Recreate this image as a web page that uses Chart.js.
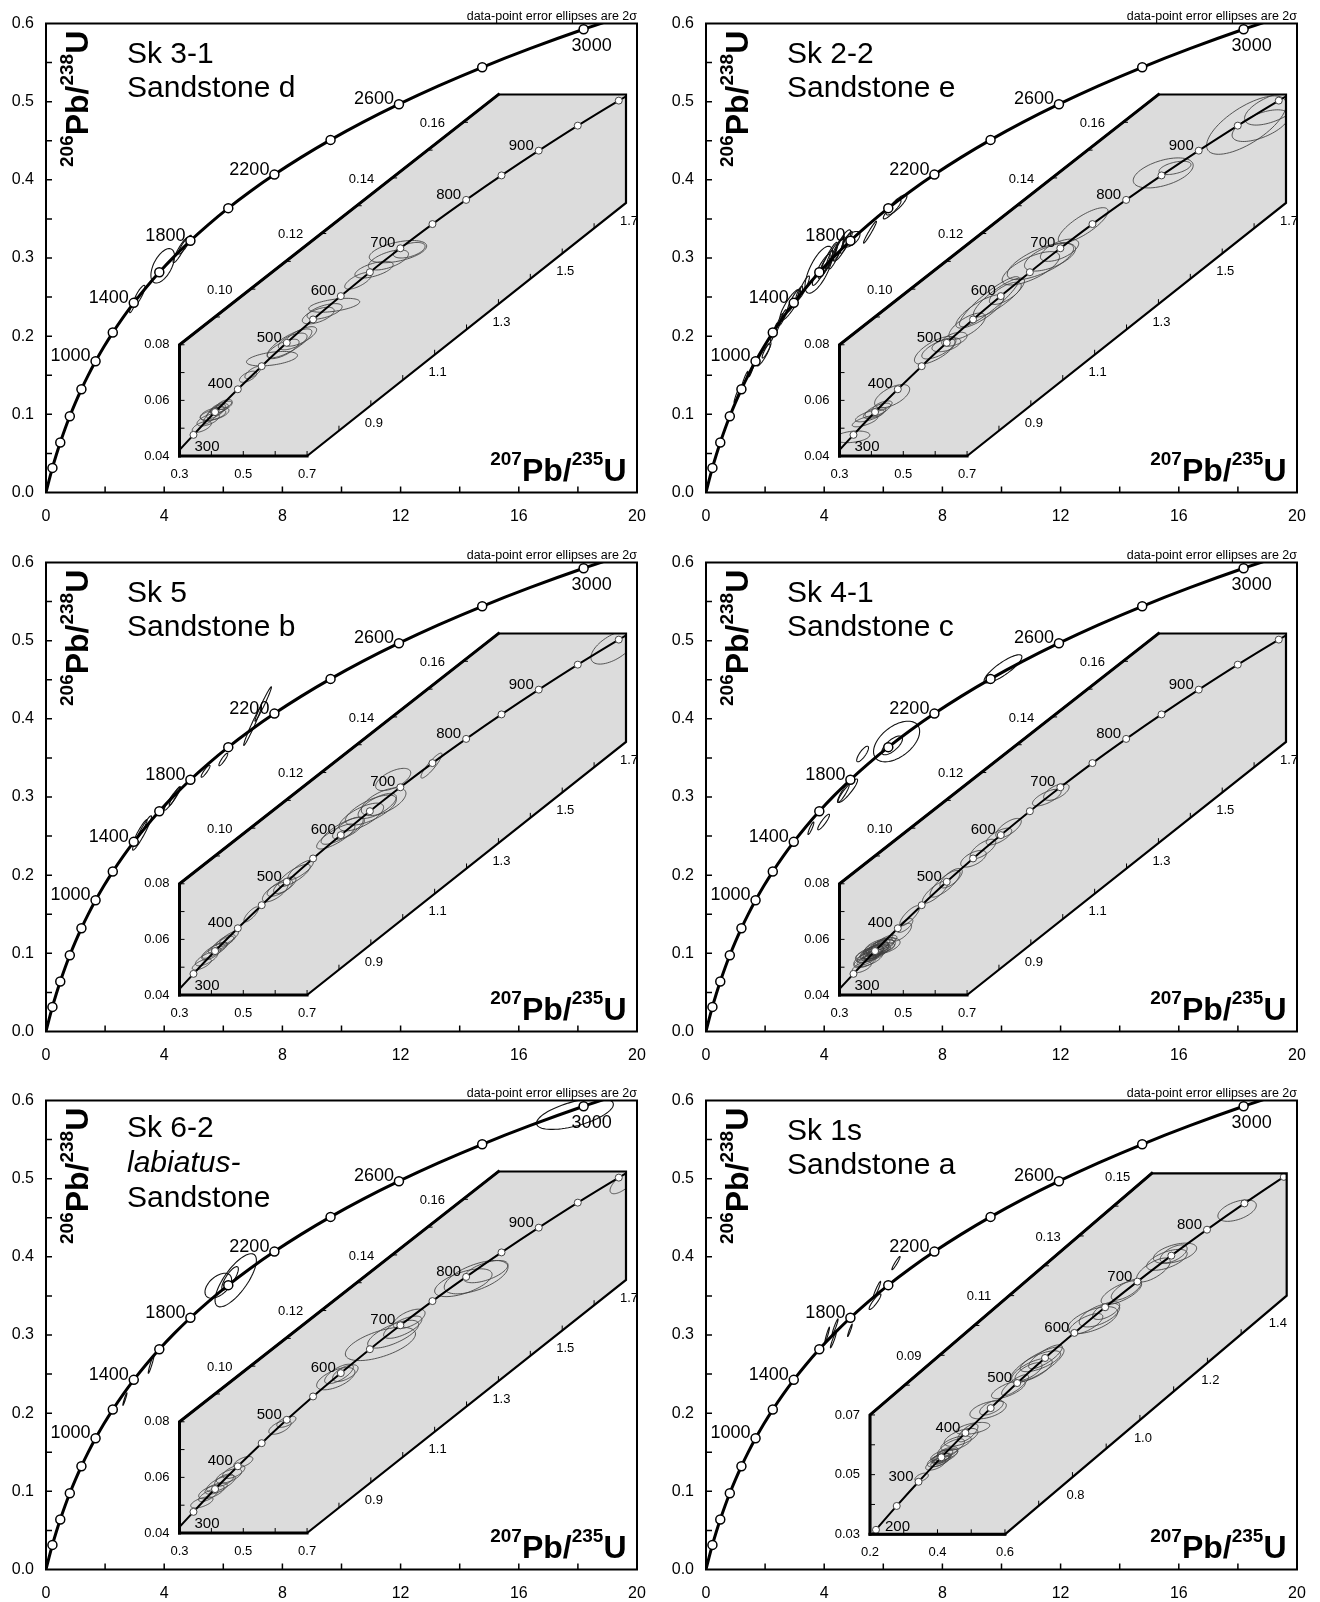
<!DOCTYPE html>
<html><head><meta charset="utf-8">
<script src="https://cdn.jsdelivr.net/npm/chart.js@4.4.1/dist/chart.umd.min.js"></script>
<style>
html,body{margin:0;padding:0;background:#fff}
body{width:1320px;height:1602px;position:relative;overflow:hidden}
.panel{position:absolute;width:660px;height:539px}
.panel canvas{position:absolute}
</style></head><body>
<script>
// ---------- concordia (main plot), ages in Ma ----------
const concAges = [0,100,200,300,400,500,600,700,800,900,1000,1100,1200,1300,1400,1500,1600,1700,1800,1900,2000,2100,2200,2300,2400,2500,2600,2700,2800,2900,3000,3100];
const concX = [0,0.1035,0.2177,0.3438,0.4828,0.6362,0.8057,0.9925,1.1988,1.4264,1.6774,1.9545,2.2603,2.5978,2.9701,3.3810,3.8344,4.3347,4.8869,5.4962,6.1685,6.9104,7.7291,8.6327,9.6296,10.7293,11.9438,13.2830,14.7620,16.3937,18.1931,20.1795];
const concY = [0,0.0156,0.0315,0.0476,0.0640,0.0807,0.0975,0.1147,0.1321,0.1498,0.1678,0.1861,0.2046,0.2234,0.2426,0.2620,0.2817,0.3017,0.3221,0.3428,0.3638,0.3851,0.4067,0.4287,0.4511,0.4738,0.4968,0.5202,0.5440,0.5681,0.5926,0.6175];
const mainLabelAges = [1000,1400,1800,2200,2600,3000];

// ---------- concordia (inset) ----------
const insetAges = [150,200,250,300,350,400,450,500,550,600,650,700,750,800,850,900,950,1000,1050];
const insetX = [0.1592,0.2177,0.2792,0.3438,0.4115,0.4828,0.5577,0.6362,0.7188,0.8057,0.8969,0.9925,1.0931,1.1988,1.3097,1.4264,1.5488,1.6774,1.8125];
const insetY = [0.0235,0.0315,0.0395,0.0476,0.0558,0.0640,0.0723,0.0807,0.0891,0.0975,0.1061,0.1147,0.1234,0.1321,0.1409,0.1498,0.1588,0.1678,0.1769];

// ---------- error ellipses: [207Pb/235U, 206Pb/238U, 2s x, 2s y, rho] ----------
const ellSk31Main = [[3.95,0.290,0.40,0.022,0.55],[4.55,0.310,0.25,0.016,0.92],[4.70,0.317,0.22,0.012,0.9],[3.15,0.252,0.20,0.013,0.85],[2.95,0.240,0.12,0.010,0.9]];
const ellSk31Inset = [[0.37,0.0505,0.030,0.0020,0.6],[0.39,0.0530,0.035,0.0022,0.6],[0.405,0.0548,0.040,0.0020,0.5],[0.415,0.0560,0.030,0.0025,0.7],[0.425,0.0570,0.028,0.0018,0.6],[0.43,0.0575,0.035,0.0022,0.7],[0.40,0.0545,0.025,0.0030,0.8],[0.44,0.0585,0.025,0.0018,0.6],[0.41,0.0552,0.045,0.0024,0.5],[0.42,0.0562,0.020,0.0016,0.6],[0.515,0.0685,0.027,0.0020,0.6],[0.53,0.0700,0.025,0.0022,0.7],[0.59,0.0750,0.080,0.0026,0.45],[0.625,0.0785,0.050,0.0035,0.7],[0.645,0.0805,0.070,0.0052,0.8],[0.655,0.0812,0.045,0.0030,0.6],[0.68,0.0830,0.050,0.0035,0.7],[0.735,0.0905,0.050,0.0030,0.6],[0.755,0.0920,0.055,0.0028,0.6],[0.785,0.0942,0.080,0.0025,0.5],[0.86,0.1030,0.042,0.0030,0.7],[0.91,0.1070,0.060,0.0030,0.6],[0.955,0.1105,0.063,0.0036,0.6],[0.985,0.1135,0.090,0.0040,0.5],[1.02,0.1140,0.050,0.0028,0.5]];

const ellSk22Main = [[1.05,0.125,0.10,0.010,0.95],[1.30,0.143,0.12,0.012,0.95],[1.55,0.158,0.10,0.010,0.95],[1.95,0.176,0.22,0.014,0.9],[2.05,0.182,0.15,0.010,0.9],[2.30,0.205,0.12,0.012,0.95],[2.45,0.215,0.15,0.014,0.95],[2.60,0.224,0.12,0.010,0.9],[2.85,0.240,0.35,0.020,0.85],[2.95,0.245,0.20,0.014,0.9],[3.15,0.254,0.12,0.010,0.8],[3.30,0.262,0.20,0.015,0.9],[3.82,0.285,0.47,0.030,0.7],[3.90,0.285,0.30,0.020,0.9],[4.05,0.292,0.25,0.018,0.9],[4.15,0.298,0.30,0.022,0.92],[4.25,0.302,0.20,0.016,0.9],[4.40,0.306,0.25,0.020,0.9],[4.50,0.312,0.20,0.015,0.9],[4.60,0.316,0.30,0.020,0.85],[4.75,0.320,0.20,0.014,0.9],[4.92,0.324,0.29,0.010,0.6],[5.55,0.333,0.22,0.014,0.97],[6.30,0.362,0.30,0.012,0.9],[6.45,0.368,0.35,0.013,0.85]];
const ellSk22Inset = [[0.34,0.0469,0.055,0.0021,0.3],[0.38,0.0525,0.040,0.0020,0.7],[0.395,0.0545,0.045,0.0022,0.7],[0.41,0.0555,0.035,0.0020,0.6],[0.42,0.0565,0.040,0.0025,0.7],[0.435,0.0580,0.030,0.0018,0.6],[0.465,0.0615,0.055,0.0042,0.6],[0.60,0.0780,0.065,0.0050,0.7],[0.61,0.0785,0.052,0.0036,0.7],[0.635,0.0800,0.045,0.0025,0.5],[0.66,0.0820,0.040,0.0025,0.5],[0.70,0.0867,0.057,0.0047,0.7],[0.74,0.0920,0.075,0.0060,0.8],[0.77,0.0955,0.094,0.0090,0.9],[0.80,0.0970,0.080,0.0070,0.85],[0.82,0.0985,0.050,0.0040,0.7],[0.90,0.1075,0.090,0.0060,0.7],[0.93,0.1100,0.104,0.0066,0.7],[0.96,0.1115,0.080,0.0050,0.6],[0.99,0.1140,0.060,0.0040,0.6],[1.064,0.1230,0.078,0.0063,0.8],[1.315,0.1418,0.094,0.0054,0.5],[1.352,0.1436,0.050,0.0024,0.5],[1.576,0.1590,0.125,0.0105,0.7],[1.62,0.1588,0.089,0.0057,0.6],[1.66,0.1650,0.090,0.0060,0.6]];

const ellSk5Main = [[3.25,0.254,0.32,0.022,0.95],[3.20,0.257,0.22,0.014,0.95],[4.28,0.298,0.28,0.015,0.95],[4.35,0.301,0.18,0.012,0.95],[5.40,0.333,0.15,0.0077,0.9],[6.00,0.348,0.15,0.008,0.9],[6.99,0.391,0.30,0.025,0.98],[7.35,0.419,0.28,0.022,0.98]];
const ellSk5Inset = [[0.37,0.0510,0.030,0.0020,0.7],[0.385,0.0530,0.035,0.0025,0.7],[0.40,0.0548,0.030,0.0022,0.7],[0.41,0.0560,0.040,0.0028,0.8],[0.42,0.0570,0.030,0.0020,0.7],[0.435,0.0585,0.035,0.0026,0.8],[0.445,0.0595,0.030,0.0022,0.7],[0.455,0.0605,0.030,0.0025,0.8],[0.525,0.0690,0.023,0.0027,0.8],[0.60,0.0770,0.040,0.0035,0.7],[0.615,0.0785,0.040,0.0030,0.7],[0.63,0.0795,0.035,0.0030,0.7],[0.66,0.0830,0.050,0.0040,0.8],[0.68,0.0850,0.040,0.0035,0.8],[0.79,0.0970,0.060,0.0045,0.8],[0.81,0.0990,0.066,0.0048,0.8],[0.83,0.1000,0.050,0.0040,0.7],[0.87,0.1040,0.070,0.0050,0.7],[0.90,0.1065,0.080,0.0054,0.7],[0.92,0.1080,0.060,0.0045,0.7],[0.94,0.1095,0.070,0.0050,0.6],[0.97,0.1175,0.055,0.0040,0.6],[1.09,0.1225,0.033,0.0045,0.9],[1.66,0.1650,0.070,0.0060,0.6]];

const ellSk41Main = [[10.05,0.464,0.64,0.018,0.85],[6.45,0.371,0.78,0.026,0.5],[6.30,0.366,0.35,0.012,0.7],[5.30,0.355,0.20,0.010,0.8],[4.80,0.308,0.33,0.015,0.9],[4.65,0.305,0.20,0.012,0.9],[3.98,0.268,0.20,0.010,0.9],[3.55,0.260,0.10,0.008,0.9]];
const ellSk41Inset = [[0.37,0.0500,0.030,0.0020,0.6],[0.38,0.0520,0.035,0.0022,0.6],[0.39,0.0530,0.045,0.0028,0.6],[0.395,0.0540,0.040,0.0024,0.7],[0.40,0.0548,0.050,0.0030,0.6],[0.405,0.0550,0.035,0.0020,0.5],[0.41,0.0555,0.045,0.0026,0.6],[0.415,0.0560,0.040,0.0030,0.7],[0.42,0.0565,0.035,0.0022,0.6],[0.425,0.0570,0.050,0.0028,0.6],[0.43,0.0575,0.040,0.0025,0.6],[0.44,0.0585,0.035,0.0022,0.6],[0.435,0.0575,0.055,0.0030,0.5],[0.45,0.0595,0.030,0.0020,0.6],[0.385,0.0525,0.030,0.0018,0.7],[0.398,0.0538,0.028,0.0016,0.6],[0.402,0.0552,0.038,0.0022,0.7],[0.408,0.0549,0.030,0.0024,0.8],[0.412,0.0557,0.025,0.0018,0.6],[0.418,0.0561,0.042,0.0020,0.5],[0.422,0.0568,0.030,0.0026,0.7],[0.428,0.0566,0.045,0.0022,0.6],[0.392,0.0545,0.040,0.0020,0.5],[0.43,0.0582,0.028,0.0020,0.6],[0.412,0.0552,0.020,0.0012,0.5],[0.495,0.0626,0.031,0.0032,0.7],[0.505,0.0650,0.025,0.0025,0.7],[0.52,0.0685,0.031,0.0036,0.8],[0.60,0.0770,0.040,0.0040,0.8],[0.631,0.0800,0.047,0.0048,0.8],[0.65,0.0820,0.035,0.0035,0.7],[0.72,0.0890,0.040,0.0030,0.6],[0.75,0.0925,0.040,0.0035,0.7],[0.80,0.0970,0.040,0.0030,0.7],[0.83,0.1000,0.040,0.0035,0.7],[0.95,0.1110,0.045,0.0030,0.7],[0.98,0.1130,0.040,0.0030,0.6]];

const ellSk62Main = [[17.9,0.583,1.30,0.020,0.6],[6.42,0.370,0.70,0.034,0.75],[5.83,0.363,0.45,0.016,0.5],[6.23,0.3725,0.28,0.015,0.8],[3.56,0.263,0.10,0.012,0.95],[2.67,0.218,0.07,0.008,0.95]];
const ellSk62Inset = [[0.37,0.0510,0.035,0.0020,0.6],[0.39,0.0535,0.030,0.0022,0.7],[0.40,0.0548,0.040,0.0025,0.6],[0.415,0.0560,0.035,0.0020,0.6],[0.43,0.0578,0.045,0.0030,0.7],[0.44,0.0590,0.030,0.0022,0.6],[0.455,0.0605,0.040,0.0026,0.6],[0.47,0.0620,0.035,0.0024,0.6],[0.50,0.0655,0.030,0.0020,0.6],[0.615,0.0780,0.035,0.0025,0.6],[0.635,0.0800,0.030,0.0020,0.6],[0.79,0.0955,0.060,0.0040,0.6],[0.80,0.0972,0.045,0.0035,0.7],[0.82,0.0975,0.040,0.0030,0.6],[0.93,0.1080,0.110,0.0060,0.6],[0.97,0.1115,0.080,0.0050,0.7],[1.00,0.1140,0.060,0.0040,0.7],[1.02,0.1170,0.050,0.0035,0.6],[1.19,0.1300,0.090,0.0050,0.6],[1.23,0.1320,0.100,0.0060,0.6],[1.26,0.1340,0.070,0.0040,0.6],[1.69,0.1660,0.040,0.0040,0.7]];

const ellSk1sMain = [[6.43,0.392,0.14,0.0085,0.95],[5.78,0.3576,0.13,0.011,0.95],[5.72,0.3426,0.20,0.010,0.9],[4.37,0.3106,0.10,0.010,0.95],[4.87,0.306,0.08,0.008,0.95],[4.31,0.2936,0.10,0.010,0.95],[4.10,0.300,0.08,0.010,0.95]];
const ellSk1sInset = [[0.353,0.0491,0.020,0.0014,0.5],[0.395,0.0535,0.030,0.0020,0.6],[0.405,0.0548,0.035,0.0022,0.6],[0.41,0.0556,0.025,0.0016,0.5],[0.415,0.0560,0.030,0.0026,0.7],[0.42,0.0566,0.040,0.0020,0.6],[0.43,0.0575,0.030,0.0018,0.6],[0.40,0.0552,0.020,0.0012,0.5],[0.408,0.0545,0.028,0.0018,0.7],[0.418,0.0558,0.022,0.0014,0.6],[0.425,0.0562,0.035,0.0024,0.7],[0.44,0.0590,0.040,0.0030,0.7],[0.455,0.0605,0.045,0.0025,0.6],[0.47,0.0625,0.050,0.0030,0.6],[0.505,0.0655,0.050,0.0020,0.5],[0.49,0.0640,0.030,0.0030,0.7],[0.55,0.0717,0.054,0.0030,0.5],[0.56,0.0725,0.035,0.0025,0.6],[0.61,0.0785,0.050,0.0030,0.7],[0.63,0.0800,0.040,0.0035,0.8],[0.68,0.0850,0.060,0.0040,0.7],[0.695,0.0868,0.080,0.0060,0.8],[0.705,0.0880,0.060,0.0035,0.7],[0.72,0.0895,0.050,0.0040,0.8],[0.67,0.0845,0.040,0.0030,0.7],[0.86,0.1018,0.074,0.0045,0.6],[0.88,0.1035,0.060,0.0040,0.6],[0.84,0.1005,0.050,0.0035,0.7],[0.90,0.1050,0.040,0.0030,0.6],[0.945,0.1110,0.060,0.0040,0.7],[0.96,0.1120,0.045,0.0035,0.7],[1.04,0.1186,0.050,0.0040,0.7],[1.08,0.1220,0.060,0.0035,0.6],[1.104,0.1242,0.064,0.0034,0.5],[1.10,0.1240,0.040,0.0030,0.6],[1.288,0.1385,0.057,0.0036,0.5]];

// ---------- inset frames ----------
const insetStdXTickLabels = [0.3,0.5,0.7,0.9,1.1,1.3,1.5,1.7];
const insetStdYTickLabels = [0.04,0.06,0.08,0.10,0.12,0.14,0.16];
const insetStdAgeLabels = [300,400,500,600,700,800,900];
const inset1sXTickLabels = [0.2,0.4,0.6,0.8,1.0,1.2,1.4];
const inset1sYTickLabels = [0.03,0.05,0.07,0.09,0.11,0.13,0.15];
const inset1sAgeLabels = [200,300,400,500,600,700,800];

const FONT = "'Liberation Sans', Arial, Helvetica, sans-serif";
Chart.defaults.font.family = FONT;
Chart.defaults.color = '#000';

const INSET_STD = {xMin:0.3,xMax:1.7,yMin:0.04,yMax:0.17,
  hex:[[0.3,0.04],[0.7,0.04],[1.7,0.131],[1.7,0.17],[1.3,0.17],[0.3,0.08]],
  xLab:insetStdXTickLabels, yLab:insetStdYTickLabels, ages:insetStdAgeLabels, firstAgeBelow:true,
  area:{left:179.5,right:626,top:94.5,bottom:456}};
const INSET_1S = {xMin:0.2,xMax:1.435,yMin:0.03,yMax:0.151,
  hex:[[0.2,0.03],[0.6,0.03],[1.435,0.110],[1.435,0.151],[1.035,0.151],[0.2,0.07]],
  xLab:inset1sXTickLabels, yLab:inset1sYTickLabels, ages:inset1sAgeLabels, firstAgeBelow:false,
  area:{left:210,right:626.7,top:96.3,bottom:457.3}};

const PANELS = [
  {col:0,row:0,title:['Sk 3-1','Sandstone d'],italic:[false,false],titleY:[63,97],main:ellSk31Main,ins:ellSk31Inset,frame:INSET_STD},
  {col:1,row:0,title:['Sk 2-2','Sandstone e'],italic:[false,false],titleY:[63,97],main:ellSk22Main,ins:ellSk22Inset,frame:INSET_STD},
  {col:0,row:1,title:['Sk 5','Sandstone b'],italic:[false,false],titleY:[63,97],main:ellSk5Main,ins:ellSk5Inset,frame:INSET_STD},
  {col:1,row:1,title:['Sk 4-1','Sandstone c'],italic:[false,false],titleY:[63,97],main:ellSk41Main,ins:ellSk41Inset,frame:INSET_STD},
  {col:0,row:2,title:['Sk 6-2','labiatus-','Sandstone'],italic:[false,true,false],titleY:[60,95,130],main:ellSk62Main,ins:ellSk62Inset,frame:INSET_STD},
  {col:1,row:2,title:['Sk 1s','Sandstone a'],italic:[false,false],titleY:[63,97],main:ellSk1sMain,ins:ellSk1sInset,frame:INSET_1S}
];
const colLeft = [0,660], rowTop = [0,538.5,1077];

function drawEllipses(ch, list, color, lw){
  const ctx = ch.ctx, X = ch.scales.x, Y = ch.scales.y;
  ctx.save(); ctx.strokeStyle = color; ctx.lineWidth = lw;
  for (const [cx,cy,sx,sy,r] of list){
    ctx.beginPath();
    const q = Math.sqrt(1-r*r);
    for (let i=0;i<=72;i++){
      const t = i/72*2*Math.PI;
      const px = X.getPixelForValue(cx + sx*Math.cos(t));
      const py = Y.getPixelForValue(cy + sy*(r*Math.cos(t) + q*Math.sin(t)));
      if (i) ctx.lineTo(px,py); else ctx.moveTo(px,py);
    }
    ctx.closePath(); ctx.stroke();
  }
  ctx.restore();
}

function drawRatio(ctx, s1, m1, s2, m2, x, y, vertical){
  const big = `bold 32px ${FONT}`, small = `bold 19px ${FONT}`;
  const parts = [[s1,small,-15.5],[m1,big,0],[s2,small,-15.5],[m2,big,0]];
  ctx.save();
  let w = 0;
  parts.forEach(p=>{ctx.font=p[1]; p.w = ctx.measureText(p[0]).width; w += p.w;});
  ctx.translate(x,y);
  if (vertical) ctx.rotate(-Math.PI/2); else ctx.translate(-w,0);
  ctx.textAlign='left'; ctx.textBaseline='alphabetic'; ctx.fillStyle='#000';
  let cx = 0;
  parts.forEach(p=>{ctx.font=p[1]; ctx.fillText(p[0],cx,p[2]); cx += p.w;});
  ctx.restore();
}

function mainChart(canvas, P){
  const plug = {
    id:'mainDecor',
    beforeDatasetsDraw(ch){
      const {ctx, chartArea:a} = ch;
      ctx.save(); ctx.beginPath(); ctx.rect(a.left,a.top,a.right-a.left,a.bottom-a.top); ctx.clip();
      drawEllipses(ch, P.main, '#111', 1.1);
      ctx.restore();
    },
    afterDraw(ch){
      const {ctx, chartArea:a} = ch; const X = ch.scales.x, Y = ch.scales.y;
      ctx.save();
      ctx.strokeStyle='#000'; ctx.lineWidth=2;
      ctx.strokeRect(a.left,a.top,a.right-a.left,a.bottom-a.top);
      ctx.lineWidth=1.5; ctx.beginPath();
      for (let v=2; v<20; v+=2){const px=X.getPixelForValue(v); ctx.moveTo(px,a.bottom); ctx.lineTo(px,a.bottom-6);}
      for (let k=1; k<12; k++){const py=Y.getPixelForValue(k*0.05); ctx.moveTo(a.left,py); ctx.lineTo(a.left+6,py);}
      ctx.stroke();
      ctx.fillStyle='#000';
      ctx.font=`12.5px ${FONT}`; ctx.textAlign='right'; ctx.textBaseline='alphabetic';
      ctx.fillText('data-point error ellipses are 2\u03C3', a.right, a.top-3.5);
      ctx.textAlign='left';
      P.title.forEach((t,i)=>{ctx.font=(P.italic[i]?'italic ':'')+`30px ${FONT}`; ctx.fillText(t,127,P.titleY[i]);});
      ctx.font=`18px ${FONT}`;
      mainLabelAges.forEach(age=>{
        const i = concAges.indexOf(age);
        const px = X.getPixelForValue(concX[i]), py = Y.getPixelForValue(concY[i]);
        if (age===3000){ctx.textAlign='left'; ctx.fillText(String(age),px-12,py+22);}
        else {ctx.textAlign='right'; ctx.fillText(String(age),px-5,py);}
      });
      ctx.restore();
      drawRatio(ctx,'206','Pb/','238','U',88,167,true);
      drawRatio(ctx,'207','Pb/','235','U',626.5,480.5,false);
    }
  };
  return new Chart(canvas,{
    type:'line',
    data:{datasets:[{
      data: concX.map((x,i)=>({x:x,y:concY[i]})),
      borderColor:'#000', borderWidth:3, cubicInterpolationMode:'monotone',
      pointRadius: concAges.map(a=>(a>0 && a<=3000 && a%200===0)?4.5:0),
      pointHoverRadius:0, pointBackgroundColor:'#fff', pointBorderColor:'#000', pointBorderWidth:1.5
    }]},
    options:{
      responsive:false, animation:false, devicePixelRatio:1, events:[],
      layout:{padding:{left:0,right:23,top:23.5,bottom:16.5}},
      plugins:{legend:{display:false},tooltip:{enabled:false}},
      scales:{
        x:{type:'linear',min:0,max:20,afterFit(s){s.height=30;},
           grid:{display:false,drawTicks:false},border:{display:false},
           ticks:{stepSize:2,autoSkip:false,maxRotation:0,padding:14,font:{size:16},color:'#000',
             callback:v=>{const r=Math.round(v); return r%4===0?String(r):'';}}},
        y:{type:'linear',min:0,max:0.6,afterFit(s){s.width=46;},
           grid:{display:false,drawTicks:false},border:{display:false},
           ticks:{stepSize:0.05,autoSkip:false,padding:12,font:{size:16},color:'#000',
             callback:v=>{const k=Math.round(v*20); return k%2===0?(k/20).toFixed(1):'';}}}
      }
    },
    plugins:[plug]
  });
}

function insetChart(canvas, P, F, cl, ct, cw, chh){
  const A = F.area;
  const plug = {
    id:'insetDecor',
    beforeDatasetsDraw(ch){
      const ctx = ch.ctx, X = ch.scales.x, Y = ch.scales.y;
      const hex = F.hex.map(([u,v])=>[X.getPixelForValue(u),Y.getPixelForValue(v)]);
      ctx.save();
      ctx.beginPath(); hex.forEach(([px,py],i)=>i?ctx.lineTo(px,py):ctx.moveTo(px,py)); ctx.closePath();
      ctx.fillStyle='#dcdcdc'; ctx.fill();
      ctx.clip();
      drawEllipses(ch, P.ins, '#444', 0.9);
    },
    afterDatasetsDraw(ch){
      const ctx = ch.ctx, X = ch.scales.x, Y = ch.scales.y;
      ctx.restore();
      const H = F.hex;
      const hex = H.map(([u,v])=>[X.getPixelForValue(u),Y.getPixelForValue(v)]);
      ctx.save();
      ctx.strokeStyle='#000'; ctx.lineJoin='miter';
      ctx.lineWidth=2.2;
      ctx.beginPath(); hex.forEach(([px,py],i)=>i?ctx.lineTo(px,py):ctx.moveTo(px,py)); ctx.closePath(); ctx.stroke();
      ctx.lineWidth=3; ctx.lineCap='square';
      ctx.beginPath(); ctx.moveTo(hex[0][0],hex[0][1]); ctx.lineTo(hex[5][0],hex[5][1]); ctx.lineTo(hex[4][0],hex[4][1]); ctx.stroke();
      ctx.beginPath(); ctx.moveTo(hex[0][0],hex[0][1]); ctx.lineTo(hex[1][0],hex[1][1]); ctx.stroke();
      const B=H[1], C=H[2], E=H[4], Fp=H[5];
      const lowY = x => x<=B[0] ? F.yMin : B[1] + (x-B[0])*(C[1]-B[1])/(C[0]-B[0]);
      const upX = y => y<=Fp[1] ? F.xMin : Fp[0] + (y-Fp[1])*(E[0]-Fp[0])/(E[1]-Fp[1]);
      // inward ticks
      ctx.lineWidth=1; ctx.lineCap='butt'; ctx.beginPath();
      for (let k=Math.round(F.xMin*10)+1; k<Math.round(F.xMax*10); k++){
        const xv=k/10, px=X.getPixelForValue(xv), py=Y.getPixelForValue(lowY(xv));
        ctx.moveTo(px,py); ctx.lineTo(px,py-5);
      }
      for (let k=Math.round(F.yMin*100)+1; k<Math.round(F.yMax*100); k++){
        const yv=k/100, px=X.getPixelForValue(upX(yv)), py=Y.getPixelForValue(yv);
        ctx.moveTo(px,py); ctx.lineTo(px+5,py);
      }
      ctx.stroke();
      // tick labels
      ctx.fillStyle='#000'; ctx.font=`13px ${FONT}`; ctx.textBaseline='middle';
      ctx.textAlign='center';
      F.xLab.forEach(xv=>{
        const px=X.getPixelForValue(xv), py=Y.getPixelForValue(lowY(xv));
        ctx.fillText(xv.toFixed(1), px + (xv>B[0]+1e-9?3:0), py+18);
      });
      ctx.textAlign='right';
      F.yLab.forEach(yv=>{
        const onEdge = yv<=Fp[1]+1e-9;
        const px=X.getPixelForValue(upX(yv)), py=Y.getPixelForValue(yv);
        ctx.fillText(yv.toFixed(2), px-(onEdge?10:18), py+(onEdge?0:1));
      });
      // age labels
      ctx.font=`15px ${FONT}`; ctx.textBaseline='alphabetic';
      F.ages.forEach((age,j)=>{
        const i = insetAges.indexOf(age);
        const px=X.getPixelForValue(insetX[i]), py=Y.getPixelForValue(insetY[i]);
        if (j===0 && F.firstAgeBelow){ctx.textAlign='left'; ctx.fillText(String(age),px+1,py+16);}
        else if (j===0){ctx.textAlign='left'; ctx.fillText(String(age),px+9,py+1);}
        else {ctx.textAlign='right'; ctx.fillText(String(age),px-5,py-1);}
      });
      ctx.restore();
    }
  };
  return new Chart(canvas,{
    type:'line',
    data:{datasets:[{
      data: insetX.map((x,i)=>({x:x,y:insetY[i]})),
      borderColor:'#000', borderWidth:2, cubicInterpolationMode:'monotone',
      pointRadius: insetAges.map(a=>(a>=200 && a<=1000)?3.5:0),
      pointHoverRadius:0, pointBackgroundColor:'#fff', pointBorderColor:'#444', pointBorderWidth:1
    }]},
    options:{
      responsive:false, animation:false, devicePixelRatio:1, events:[],
      layout:{padding:{left:A.left-cl, right:(cl+cw)-A.right, top:A.top-ct, bottom:(ct+chh)-A.bottom}},
      plugins:{legend:{display:false},tooltip:{enabled:false}},
      scales:{
        x:{type:'linear',display:false,min:F.xMin,max:F.xMax},
        y:{type:'linear',display:false,min:F.yMin,max:F.yMax}
      }
    },
    plugins:[plug]
  });
}

PANELS.forEach(P=>{
  const div = document.createElement('div');
  div.className='panel';
  div.style.left = colLeft[P.col]+'px';
  div.style.top = rowTop[P.row]+'px';
  document.body.appendChild(div);
  const c1 = document.createElement('canvas');
  c1.width=660; c1.height=539; c1.style.left='0px'; c1.style.top='0px';
  div.appendChild(c1);
  mainChart(c1,P);
  const cl=120, ct=50, cw=540, chh=440;
  const c2 = document.createElement('canvas');
  c2.width=cw; c2.height=chh; c2.style.left=cl+'px'; c2.style.top=ct+'px';
  div.appendChild(c2);
  insetChart(c2,P,P.frame,cl,ct,cw,chh);
});
</script>
</body></html>
